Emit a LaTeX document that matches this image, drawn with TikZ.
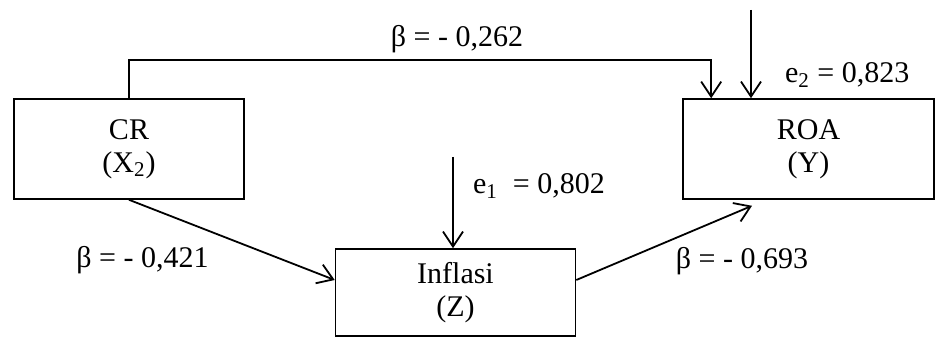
\documentclass[tikz,border=0pt]{standalone}
\usepackage{fontspec}
\setmainfont{Liberation Serif}
\usepackage{tikz}
\usetikzlibrary{arrows.meta,positioning,calc}

\begin{document}
\begin{tikzpicture}[
    x=0.5pt, y=0.5pt,
    font=\fontsize{15}{16.5}\selectfont,
    var/.style={rectangle, draw=black, line width=0.8pt, align=center, minimum height=50pt, inner sep=0pt},
    coef/.style={anchor=base},
    err/.style={anchor=base west},
    arrow/.style={-{Straight Barb[length=7.5pt,width=10pt]}, line width=0.9pt}
]
\useasboundingbox (0,0) rectangle (937,337);

% Variables
\node[var, minimum width=115pt] (cr) at (129,188) {CR\\(X\textsubscript{2})};
\node[var, minimum width=120pt, minimum height=43.5pt] (inflasi) at (455.5,44.5) {Inflasi\\(Z)};
\node[var, minimum width=125.5pt] (roa) at (808.5,188) {ROA\\(Y)};

% Error terms
\coordinate (e1) at (453,180);
\coordinate (e2) at (751,327);

% Connections
\draw[arrow] (cr.south) -- ($(inflasi.west)+(0,12.5)$);
\draw[arrow] ($(inflasi.east)+(0,12.5)$) -- ($(roa.south)+(-56.5,-6)$);
\draw[arrow] (cr.north) -- ++(0,38) -| ($(roa.north west)+(29,0)$);
\draw[arrow] (e1) -- (e1 |- inflasi.north);
\draw[arrow] (e2) -- (e2 |- roa.north);

% Coefficients
\node[coef] (b262) at (457,290) {β = - 0,262};
\node[coef] (b421) at (142.5,69) {β = - 0,421};
\node[coef] (b693) at (742,68) {β = - 0,693};
\node[err] (le1) at (466,143) {e\textsubscript{1}\ \ = 0,802};
\node[err] (le2) at (778,254) {e\textsubscript{2} = 0,823};

\end{tikzpicture}
\end{document}
